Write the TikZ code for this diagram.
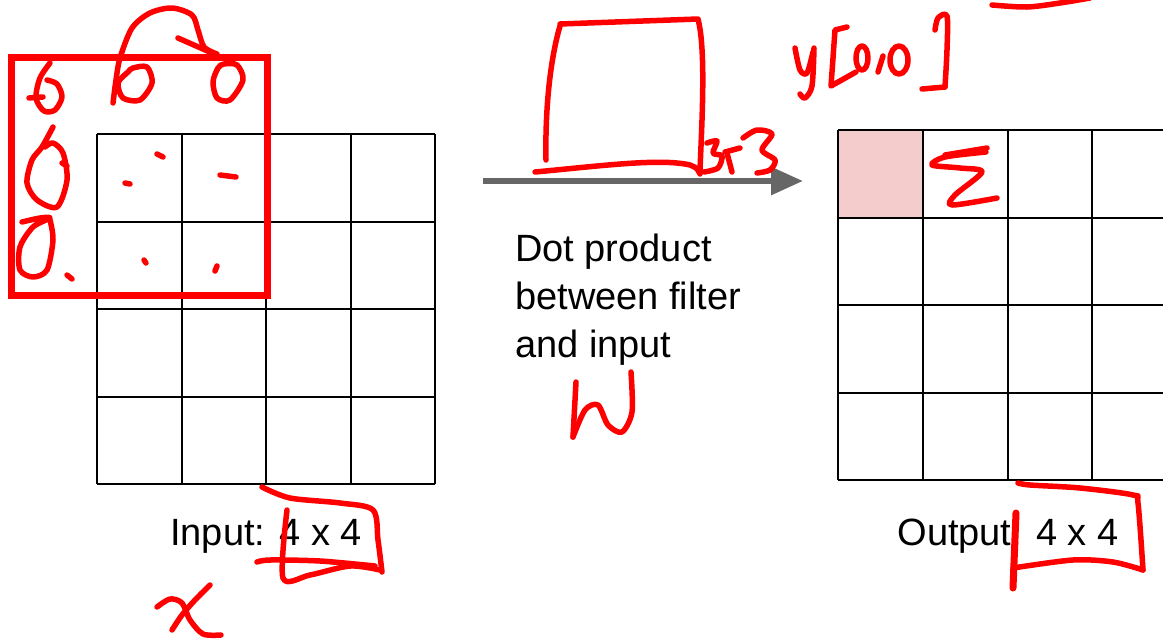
\documentclass[tikz,border=0pt]{standalone}
\usepackage{fontspec}
\setmainfont{Liberation Sans}
\usetikzlibrary{arrows.meta}
\definecolor{pinkcell}{HTML}{F4CCCC}
\definecolor{arrowgray}{HTML}{666666}
\definecolor{inkred}{HTML}{FF0000}
\begin{document}
\begin{tikzpicture}[x=1pt,y=-1pt,
  hand/.style={draw=inkred,line width=5.5pt,line cap=round,line join=round},
  gridline/.style={draw=black,line width=2pt},
  lbl/.style={font=\fontsize{38}{48}\selectfont,inner sep=0pt}]
\useasboundingbox (0,0) rectangle (1163,640);

% input grid
\foreach \i in {0,...,4} {
  \draw[gridline] ({97+84.5*\i},134) -- ({97+84.5*\i},484);
  \draw[gridline] (97,{134+87.5*\i}) -- (435,{134+87.5*\i});
}
% output grid
\fill[pinkcell] (838,130) rectangle (922.75,217.5);
\foreach \i in {0,...,3} {
  \draw[gridline] ({838+84.75*\i},130) -- ({838+84.75*\i},480);
}
\foreach \i in {0,...,4} {
  \draw[gridline] (838,{130+87.5*\i}) -- (1165,{130+87.5*\i});
}

% labels
\node[lbl,anchor=base] (inlbl) at (266,545) {Input: 4 x 4};
\node[lbl,anchor=base] (outlbl) at (1008,545) {Output: 4 x 4};
\node[lbl,anchor=base west,align=left] (dot) at (515,357) {Dot product\\between filter\\and input};

% arrow
\coordinate (as) at (483,181);
\coordinate (ae) at (803,181);
\draw[arrowgray,line width=6pt,-{Triangle[length=32pt,width=27pt]}] (as) -- (ae);

% ---- handwritten annotations ----
% window rectangle
\draw[draw=inkred,line width=7pt] (11,57) rectangle (267,295);
% zeros of padding
\draw[hand] plot[smooth] coordinates {(50,63) (40,78) (36,98) (44,111) (55,110) (62,97) (57,84) (47,80)};
\draw[hand] (29,98) -- (43,97);
\draw[hand] plot[smooth] coordinates {(113,103) (116,80) (120,58) (132,28) (150,13) (172,8) (192,15) (198,30) (204,47) (217,54)};
\draw[hand] (178,38) -- (212,53);
\draw[hand] plot[smooth cycle] coordinates {(133,68) (147,67) (152,83) (140,100) (123,98) (118,83) (128,72)};
\draw[hand] plot[smooth cycle] coordinates {(218,68) (213,82) (217,98) (230,100) (243,80) (237,65) (224,64)};
\draw[hand] plot[smooth] coordinates {(53,127) (42,147) (32,160) (27,183) (37,200) (57,207) (67,180) (63,153) (53,143) (45,147)};
\draw[hand] (62,163) -- (67,166);
\draw[hand] plot[smooth] coordinates {(22,222) (40,218) (50,218) (33,227) (20,247) (20,270) (33,277) (47,270) (53,240) (50,220)};
\draw[hand] (67,275) -- (72,279);
% dots in cells
\draw[hand] (157,154) -- (163,157);
\draw[hand] (125,183) -- (130,184);
\draw[hand] (220,175) -- (236,177);
\draw[hand] (144,260) -- (146,263);
\draw[hand] (217,266) -- (215,271);
% filter box
\draw[hand] (560,24) -- (698,19) .. controls (706,50) and (702,120) .. (700,170);
\draw[hand] (560,26) .. controls (550,60) and (545,110) .. (546,160);
\draw[hand] (535,172) .. controls (600,166) and (660,158) .. (690,165) .. controls (697,168) .. (700,174);
% 3x3
\draw[hand] plot[smooth] coordinates {(707,143) (717,141) (713,153) (722,156) (718,168) (704,172)};
\draw[hand] (725,152) -- (740,148);
\draw[hand] (727,153) -- (732,172);
\draw[hand] plot[smooth] coordinates {(743,138) (757,130) (772,134) (762,150) (775,160) (770,170) (757,173)};
% y[0,0]
\draw[hand] plot[smooth] coordinates {(795,48) (800,70) (807,73) (813,52)};
\draw[hand] plot[smooth] coordinates {(814,48) (812,86) (805,98) (800,94)};
\draw[hand] (847,27) -- (835,30) -- (831,86) -- (856,72);
\draw[hand] (862,58) ellipse[x radius=6,y radius=12];
\draw[hand] (883,56) -- (878,72);
\draw[hand] (899,60) ellipse[x radius=9,y radius=14];
\draw[hand] plot[smooth] coordinates {(935,30) (938,18) (947,16) (947,50) (945,87)};
\draw[hand] (945,87) -- (922,89);
% top right stroke
\draw[hand] plot[smooth] coordinates {(992,5) (1027,7) (1060,3) (1090,-2)};
% sigma
\draw[hand] (987,148) -- (945,155);
\draw[hand] plot[smooth] coordinates {(986,152) (945,157) (932,165) (960,168) (982,172) (955,195) (952,205) (997,198)};
% W
\draw[hand] (576,382) .. controls (574,410) .. (573,437);
\draw[hand] plot[smooth] coordinates {(573,437) (585,410) (598,405) (608,425) (622,432) (632,412) (631,372)};
% input size box
\draw[hand] plot[smooth] coordinates {(262,487) (290,498) (340,503) (373,510) (378,540) (382,572)};
\draw[hand] plot[smooth] coordinates {(287,510) (283,578) (310,575) (350,566) (380,570)};
\draw[hand] plot[smooth] coordinates {(257,562) (270,560) (320,561) (375,566)};
% x
\draw[hand] plot[smooth] coordinates {(157,607) (170,599) (182,603) (190,620) (203,634) (221,635)};
\draw[hand] plot[smooth] coordinates {(210,585) (195,600) (182,615) (172,630)};
% output size box
\draw[hand] plot[smooth] coordinates {(1018,483) (1030,485) (1080,488) (1133,495) (1138,503) (1143,570)};
\draw[hand] plot[smooth] coordinates {(1143,570) (1113,562) (1073,560) (1013,568)};
\draw[hand,line width=7pt] (1016,513) -- (1013,588);
\end{tikzpicture}
\end{document}
